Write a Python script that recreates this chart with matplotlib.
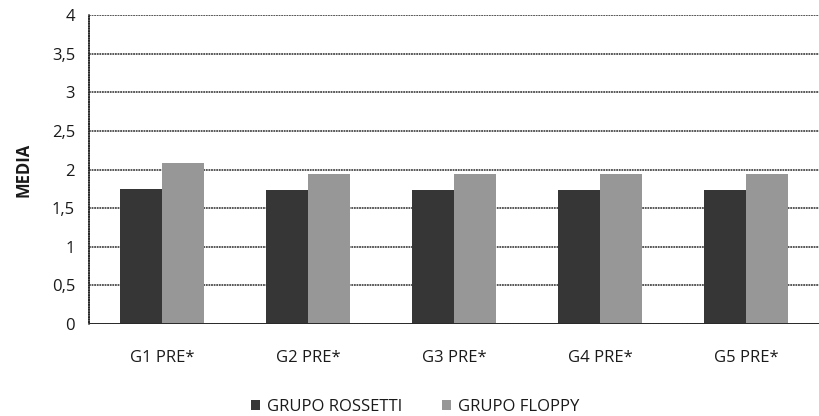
import numpy as np
import matplotlib.pyplot as plt

# data
categories = ["G1 PRE*", "G2 PRE*", "G3 PRE*", "G4 PRE*", "G5 PRE*"]
rossetti = [1.75, 1.73, 1.73, 1.73, 1.73]
floppy = [2.09, 1.94, 1.94, 1.94, 1.94]
yticks = [0, 0.5, 1, 1.5, 2, 2.5, 3, 3.5, 4]
ytick_labels = ["0", "0,5", "1", "1,5", "2", "2,5", "3", "3,5", "4"]

plt.rcParams["font.family"] = ["Open Sans", "DejaVu Sans"]
FS = 12
TXT = "#1a1a1a"

fig = plt.figure(figsize=(8.19, 4.16), dpi=100, facecolor="white")
ax = fig.add_axes([89 / 819, 92 / 416, 730 / 819, 309 / 416])

x = np.arange(len(categories))
w = 0.285
ax.bar(x - w / 2, rossetti, w, color="#363636", label="GRUPO ROSSETTI", zorder=3)
ax.bar(x + w / 2, floppy, w, color="#979797", label="GRUPO FLOPPY", zorder=3)

ax.set_xlim(-0.5, len(categories) - 0.5)
ax.set_ylim(0, 4)
ax.set_yticks(yticks)
ax.set_yticklabels(ytick_labels)
ax.set_xticks(x)
ax.set_xticklabels(categories)
ax.tick_params(axis="both", length=0, labelsize=FS, colors=TXT)
ax.tick_params(axis="x", pad=19)
ax.tick_params(axis="y", pad=10)

ax.yaxis.grid(True, color="#2a2a2a", lw=1.1, linestyle=(0, (1.2, 0.5)), zorder=0)
for s in ["top", "right", "bottom"]:
    ax.spines[s].set_visible(False)
ax.spines["left"].set_color("#2a2a2a")
ax.spines["left"].set_linewidth(1.1)
ax.spines["left"].set_linestyle((0, (1, 0.6)))
ax.axhline(0, color="#2a2a2a", lw=1.4, zorder=4)

ax.set_ylabel("MEDIA", fontsize=FS, fontweight="bold", color=TXT, labelpad=14)

leg = fig.legend(loc="center", bbox_to_anchor=(415 / 819, 1 - 407 / 416), ncol=2,
                 frameon=False, prop={"size": FS},
                 handlelength=0.55, handleheight=0.55, columnspacing=2.4,
                 handletextpad=0.4)
for t in leg.get_texts():
    t.set_color(TXT)

fig.savefig("out.png", dpi=100, facecolor="white")
